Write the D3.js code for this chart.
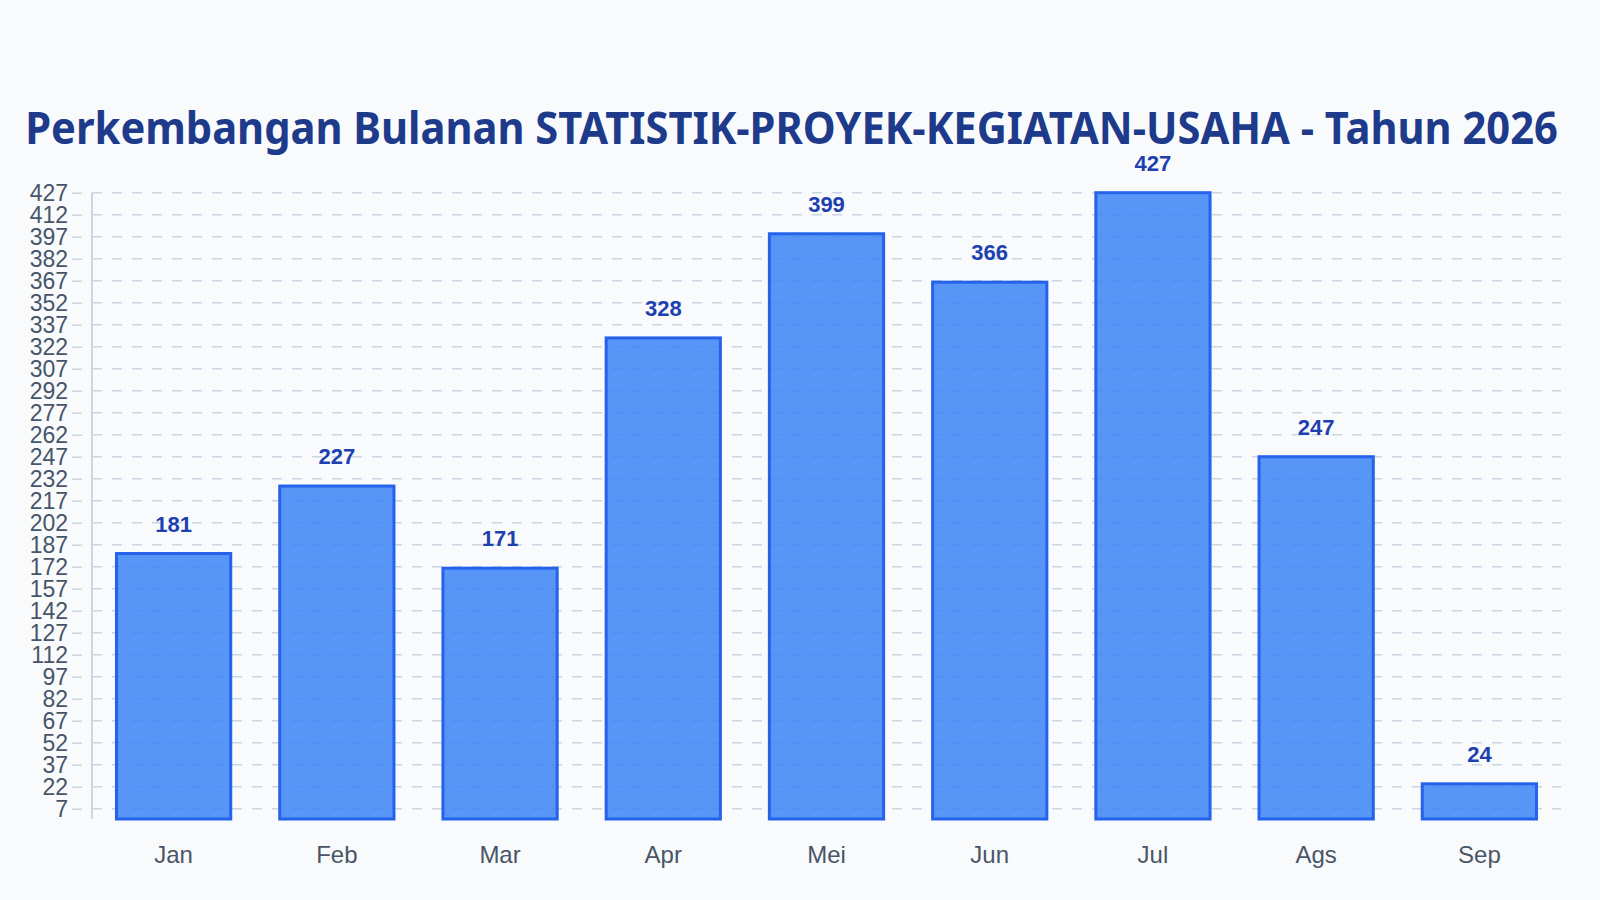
<!DOCTYPE html>
<html>
<head>
<meta charset="utf-8">
<script src="https://cdn.jsdelivr.net/npm/d3@7"></script>
<style>
  html, body { margin: 0; padding: 0; background: #f8fafc; }
  svg { display: block; }
</style>
</head>
<body>
<div id="chart"></div>
<script>
var months = ["Jan", "Feb", "Mar", "Apr", "Mei", "Jun", "Jul", "Ags", "Sep"];
var values = [181, 227, 171, 328, 399, 366, 427, 247, 24];
var yTicks = [427, 412, 397, 382, 367, 352, 337, 322, 307, 292, 277, 262, 247, 232,
              217, 202, 187, 172, 157, 142, 127, 112, 97, 82, 67, 52, 37, 22, 7];
var titleText = "Perkembangan Bulanan STATISTIK-PROYEK-KEGIATAN-USAHA - Tahun 2026";

var width = 1600,
    height = 900,
    margin = {top: 192.7, right: 39, bottom: 81, left: 92};

var svg = d3.select("#chart").append("svg")
    .attr("width", width)
    .attr("height", height)
    .style("background", "#f8fafc");

var xScale = d3.scaleBand()
    .domain(months)
    .range([margin.left, width - margin.right])
    .paddingInner(0.3)
    .paddingOuter(0.15);

var yScale = d3.scaleLinear()
    .domain([0, d3.max(values)])
    .range([height - margin.bottom, margin.top]);

// grid
svg.append("g")
    .selectAll("line")
    .data(yTicks)
    .enter().append("line")
    .attr("x1", margin.left)
    .attr("x2", width - margin.right)
    .attr("y1", function(d) { return yScale(d); })
    .attr("y2", function(d) { return yScale(d); })
    .attr("stroke", "#cbd5e1")
    .attr("stroke-width", 1.5)
    .attr("stroke-dasharray", "10,10");

// y axis
var yAxis = svg.append("g")
    .attr("transform", "translate(82,0)")
    .call(d3.axisLeft(yScale).tickValues(yTicks).tickSize(10).tickPadding(4));
yAxis.select(".domain").remove();
yAxis.selectAll(".tick line").attr("stroke", "#cbd5e1").attr("stroke-width", 1.5);
yAxis.selectAll(".tick text")
    .attr("fill", "#475569")
    .style("font-family", "'Liberation Sans', Arial, sans-serif")
    .style("font-size", "23px");

svg.append("line")
    .attr("x1", margin.left).attr("x2", margin.left)
    .attr("y1", margin.top).attr("y2", height - margin.bottom)
    .attr("stroke", "#cbd5e1")
    .attr("stroke-width", 2);

// bars
svg.append("g")
    .selectAll("rect")
    .data(values)
    .enter().append("rect")
    .attr("x", function(d, i) { return xScale(months[i]); })
    .attr("y", function(d) { return yScale(d); })
    .attr("width", xScale.bandwidth())
    .attr("height", function(d) { return yScale(0) - yScale(d); })
    .attr("fill", "#3b82f6")
    .attr("fill-opacity", 0.85)
    .attr("stroke", "#2563eb")
    .attr("stroke-width", 3);

// value labels
svg.append("g")
    .selectAll("text")
    .data(values)
    .enter().append("text")
    .attr("x", function(d, i) { return xScale(months[i]) + xScale.bandwidth() / 2; })
    .attr("y", function(d) { return yScale(d) - 22; })
    .attr("text-anchor", "middle")
    .attr("fill", "#1e40af")
    .style("font-family", "'Liberation Sans', Arial, sans-serif")
    .style("font-weight", "bold")
    .style("font-size", "22px")
    .text(function(d) { return d; });

// x labels
svg.append("g")
    .selectAll("text")
    .data(months)
    .enter().append("text")
    .attr("x", function(d) { return xScale(d) + xScale.bandwidth() / 2; })
    .attr("y", 862.5)
    .attr("text-anchor", "middle")
    .attr("fill", "#4a5568")
    .style("font-family", "'Liberation Sans', Arial, sans-serif")
    .style("font-size", "24px")
    .text(function(d) { return d; });

// title: squeezed horizontally to fit between 25 and 1558
var title = svg.append("text")
    .attr("x", 0)
    .attr("y", 0)
    .attr("text-anchor", "middle")
    .attr("fill", "#1e3a8a")
    .style("font-family", "'Noto Sans', sans-serif")
    .style("font-weight", "bold")
    .style("font-size", "44px")
    .text(titleText);
var tw = title.node().getComputedTextLength();
var sx = Math.min(1, 1533 / tw);
title.attr("transform", "translate(791.5,143.5) scale(" + sx + ",1)");
</script>
</body>
</html>
